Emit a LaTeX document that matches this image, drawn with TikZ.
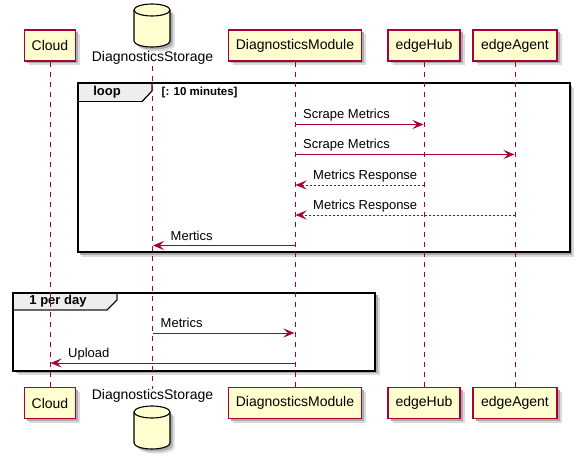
\documentclass[tikz,border=0pt]{standalone}
\usepackage{fontspec}
\setmainfont{Liberation Sans}
\usetikzlibrary{arrows.meta}
\definecolor{pfill}{HTML}{FEFECE}
\definecolor{pline}{HTML}{A80036}
\definecolor{tabfill}{HTML}{EEEEEE}
\definecolor{shouter}{HTML}{DADADA}
\definecolor{shinner}{HTML}{ABABAB}
\tikzset{
  shadowout/.style={fill=shouter, draw=none},
  shadowin/.style={fill=shinner, draw=none},
  participant/.style={draw=pline, fill=pfill, line width=1.1pt, minimum height=31pt,
    inner sep=0pt, font=\fontsize{14}{16}\selectfont},
  dblabel/.style={inner sep=0pt, font=\fontsize{14}{16}\selectfont},
  lifeline/.style={draw=pline, line width=0.8pt, dash pattern=on 5pt off 5pt},
  msg/.style={draw=pline, line width=0.9pt, -{Stealth[length=11pt,width=9pt,inset=4.5pt]}},
  reply/.style={msg, dash pattern=on 2pt off 2pt},
  msglabel/.style={anchor=base west, inner sep=0pt, font=\fontsize{13}{15}\selectfont},
  grpframe/.style={draw=black, line width=2pt},
  grptab/.style={draw=black, fill=tabfill, line width=0.9pt},
  grplabel/.style={inner sep=0pt, font=\bfseries\fontsize{13}{15}\selectfont},
  grpcond/.style={inner sep=0pt, anchor=west, font=\bfseries\fontsize{11.5}{13}\selectfont},
  dbbody/.style={fill=pfill, draw=black, line width=1.1pt},
}
\begin{document}
\begin{tikzpicture}[x=1pt,y=-1pt]
\useasboundingbox (0,0) rectangle (579,462);

% ---- shadows (drawn first, behind everything)
\foreach \ya/\yb in {30/61, 387.5/418.5}{
  \foreach \xa/\xb in {24.5/75.5, 228.5/361.5, 388/460, 473/557}{
    \fill[shadowout] (\xa+4.5,\ya+4.5) rectangle (\xb+4.5,\yb+4.5);
    \fill[shadowin] (\xa+2.5,\ya+2.5) rectangle (\xb+2.5,\yb+2.5);
  }
}
\foreach \yt in {10,412}{
  \fill[shadowout] (138.5,\yt+4.5) -- (138.5,\yt+35.5) arc[start angle=180,end angle=0,x radius=18,y radius=6] -- (174.5,\yt+4.5) -- cycle;
  \fill[shadowin] (136.5,\yt+2.5) -- (136.5,\yt+33.5) arc[start angle=180,end angle=0,x radius=18,y radius=6] -- (172.5,\yt+2.5) -- cycle;
}
\fill[shadowout] (82,88) rectangle (574,257);
\fill[shadowin] (80,86) rectangle (572,255);
\fill[shadowout] (17.5,297.5) rectangle (379.5,375.5);
\fill[shadowin] (15.5,295.5) rectangle (377.5,373.5);

% ---- group frames
\fill[white] (77.5,83.5) rectangle (569.5,252.5);
\fill[grptab] (77.5,83.5) -- (152,83.5) -- (152,91) -- (142,101.5) -- (77.5,101.5) -- cycle;
\draw[black,line width=0.9pt] (152,83.5) -- (152,91) -- (142,101.5) -- (77.5,101.5);
\draw[grpframe] (77.5,83.5) rectangle (569.5,252.5);
\node[grplabel] (looplbl) at (107,92.5) {loop};
\node[grpcond] (loopcond) at (161.5,92.5) {[: 10 minutes]};

\fill[white] (13,293) rectangle (375,371);
\fill[grptab] (13,293) -- (117,293) -- (117,300) -- (107,310) -- (13,310) -- cycle;
\draw[black,line width=0.9pt] (117,293) -- (117,300) -- (107,310) -- (13,310);
\draw[grpframe] (13,293) rectangle (375,371);
\node[grplabel] (daylbl) at (58,301.5) {1 per day};

% ---- participants top
\node[participant, minimum width=51pt] (c1) at (50,45.5) {Cloud};
\node[participant, minimum width=133pt] (m1) at (295,45.5) {DiagnosticsModule};
\node[participant, minimum width=72pt] (h1) at (424,45.5) {edgeHub};
\node[participant, minimum width=84pt] (a1) at (515,45.5) {edgeAgent};
% ---- participants bottom
\node[participant, minimum width=51pt] (c2) at (50,403) {Cloud};
\node[participant, minimum width=133pt] (m2) at (295,403) {DiagnosticsModule};
\node[participant, minimum width=72pt] (h2) at (424,403) {edgeHub};
\node[participant, minimum width=84pt] (a2) at (515,403) {edgeAgent};

% ---- database top
\fill[pfill] (134,10) -- (134,41) arc[start angle=180,end angle=0,x radius=18,y radius=6] -- (170,10) -- cycle;
\draw[black,line width=1.1pt] (134,10) -- (134,41) arc[start angle=180,end angle=0,x radius=18,y radius=6] -- (170,10);
\filldraw[dbbody] (152,10) ellipse [x radius=18, y radius=6];
\node[dblabel,anchor=base] (s1) at (152.5,62) {DiagnosticsStorage};
% ---- database bottom
\fill[pfill] (134,412) -- (134,443) arc[start angle=180,end angle=0,x radius=18,y radius=6] -- (170,412) -- cycle;
\draw[black,line width=1.1pt] (134,412) -- (134,443) arc[start angle=180,end angle=0,x radius=18,y radius=6] -- (170,412);
\filldraw[dbbody] (152,412) ellipse [x radius=18, y radius=6];
\node[dblabel,anchor=base] (s2) at (152.5,400) {DiagnosticsStorage};

% ---- lifelines
\draw[lifeline] (c1.south) -- (c2.north);
\draw[lifeline] ([yshift=-1pt]s1.south) -- ([yshift=1pt]s2.north);
\draw[lifeline] (m1.south) -- (m2.north);
\draw[lifeline] (h1.south) -- (h2.north);
\draw[lifeline] (a1.south) -- (a2.north);

% ---- messages
\draw[msg] (m1 |- 0,124.5) -- ([xshift=-0.5pt]h1 |- 0,124.5);
\node[msglabel] (l1) at (303,119) {Scrape Metrics};
\draw[msg] (m1 |- 0,154.5) -- ([xshift=-0.5pt]a1 |- 0,154.5);
\node[msglabel] (l2) at (303,149) {Scrape Metrics};
\draw[reply] (h1 |- 0,185) -- ([xshift=0.5pt]m1 |- 0,185);
\node[msglabel] (l3) at (313,180) {Metrics Response};
\draw[reply] (a1 |- 0,215) -- ([xshift=0.5pt]m1 |- 0,215);
\node[msglabel] (l4) at (313,210) {Metrics Response};
\draw[msg] (m1 |- 0,245.5) -- ([xshift=0.5pt]s1.south |- 0,245.5);
\node[msglabel] (l5) at (170.5,240.5) {Mertics};
\draw[msg] (s1.south |- 0,333) -- ([xshift=-0.5pt]m1 |- 0,333);
\node[msglabel] (l6) at (160.5,328) {Metrics};
\draw[msg] (m1 |- 0,363) -- ([xshift=0.5pt]c1 |- 0,363);
\node[msglabel] (l7) at (68,358) {Upload};
\end{tikzpicture}
\end{document}
